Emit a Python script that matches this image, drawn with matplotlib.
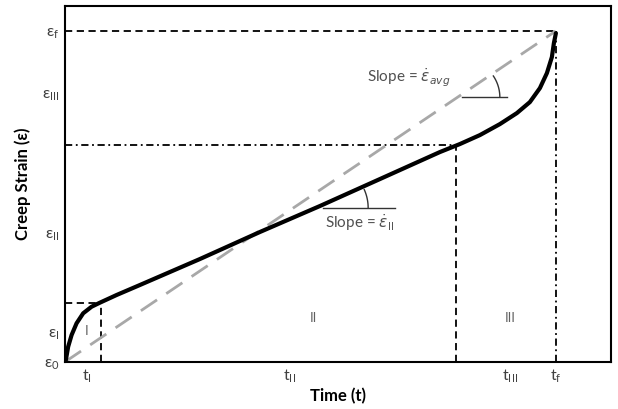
import numpy as np
import matplotlib
matplotlib.use("Agg")
import matplotlib.pyplot as plt

plt.rcParams['font.family'] = ['Lato', 'DejaVu Sans']
plt.rcParams['mathtext.fontset'] = 'dejavusans'

# creep curve (time and strain in % of axis range)
t_curve = [0, 0.18, 0.60, 1.23, 2.14, 3.35, 4.89, 6.41, 9.47, 13.74, 24.73, 35.71,
           46.70, 57.69, 68.68, 72.34, 76.01, 79.67, 82.78, 85.16, 87.0,
           88.28, 89.19, 89.56, 89.93]
eps_curve = [0, 0.56, 4.30, 7.58, 10.87, 13.68, 15.53, 16.66, 18.82, 21.63, 28.93, 36.52,
             43.82, 51.40, 58.99, 61.24, 63.76, 66.85, 69.94, 73.03, 76.97,
             81.18, 85.67, 89.61, 92.42]

# stage boundaries
t_I, eps_I = 6.6, 16.6
t_II, eps_II = 71.6, 61.0
t_f, eps_f = 89.9, 93.0

# tick labels
ytick_pos = [0, 8.4, 36.2, 75.6, 93.0]
ytick_lab = [r'ε$_{\mathregular{0}}$', r'ε$_{\mathregular{I}}$', r'ε$_{\mathregular{II}}$',
             r'ε$_{\mathregular{III}}$', r'ε$_{\mathregular{f}}$']
xtick_pos = [4.0, 41.2, 81.5, 89.9]
xtick_lab = [r't$_{\mathregular{I}}$', r't$_{\mathregular{II}}$',
             r't$_{\mathregular{III}}$', r't$_{\mathregular{f}}$']

stages = ['I', 'II', 'III']
stage_t = [4.0, 45.6, 81.5]
stage_eps = [8.7, 12.4, 12.4]

fig = plt.figure(figsize=(6.18, 4.09), dpi=100)
ax = fig.add_axes([0.105, 0.115, 0.8835, 0.870])
ax.set_xlim(0, 100)
ax.set_ylim(0, 100)

# px per data unit, for drawing the small angle arcs
sx = 0.8835 * 618 / 100
sy = 0.870 * 409 / 100

# guide lines
ax.plot([0, t_f], [eps_f, eps_f], color='black', lw=1.3, ls=(0, (4, 2.5)))
ax.plot([0, t_II], [eps_II, eps_II], color='black', lw=1.3, ls=(0, (4, 2, 1, 2)))
ax.plot([0, t_I], [eps_I, eps_I], color='black', lw=1.3, ls=(0, (4, 2.5)))
ax.plot([t_I, t_I], [0, eps_I], color='black', lw=1.3, ls=(0, (4, 2.5)))
ax.plot([t_II, t_II], [0, eps_II], color='black', lw=1.3, ls=(0, (4, 2.5)))
ax.plot([t_f, t_f], [0, eps_f], color='black', lw=1.3, ls=(0, (4, 2, 1, 2)))

# average slope line
ax.plot([0, t_f], [0, eps_f], color='#a8a8a8', lw=2, ls=(0, (7, 4)))

# creep curve
ax.plot(t_curve, eps_curve, color='black', lw=3, solid_capstyle='round',
        solid_joinstyle='round')

# slope markers
def slope_mark(t0, e0, length, radius, ang):
    ax.plot([t0, t0 + length / sx], [e0, e0], color='#333333', lw=1)
    th = np.radians(np.linspace(0, ang, 30))
    ax.plot(t0 + radius * np.cos(th) / sx, e0 + radius * np.sin(th) / sy,
            color='#333333', lw=1)

slope_mark(47.3, 43.3, 72, 45, 24)
slope_mark(72.7, 74.4, 45, 38, 34)

ax.text(54.0, 39.3, r'Slope = $\dot{\varepsilon}_{\mathregular{II}}$', fontsize=11,
        color='#505050', ha='center', va='center')
ax.text(63.0, 80.0, r'Slope = $\dot{\varepsilon}_{avg}$', fontsize=11,
        color='#505050', ha='center', va='center')

for lab, t, e in zip(stages, stage_t, stage_eps):
    ax.text(t, e, lab, fontsize=9.5, color='#606060', ha='center', va='center')

ax.set_xticks(xtick_pos)
ax.set_xticklabels(xtick_lab, fontsize=11.5, color='#404040')
ax.set_yticks(ytick_pos)
ax.set_yticklabels(ytick_lab, fontsize=11.5, color='#404040')
ax.tick_params(length=0, pad=4)

ax.set_xlabel('Time (t)', fontsize=12, fontweight='bold', labelpad=2)
ax.set_ylabel('Creep Strain (ε)', fontsize=12, fontweight='bold', labelpad=8)
for s in ax.spines.values():
    s.set_linewidth(1.5)

fig.savefig('out.png', dpi=100)
